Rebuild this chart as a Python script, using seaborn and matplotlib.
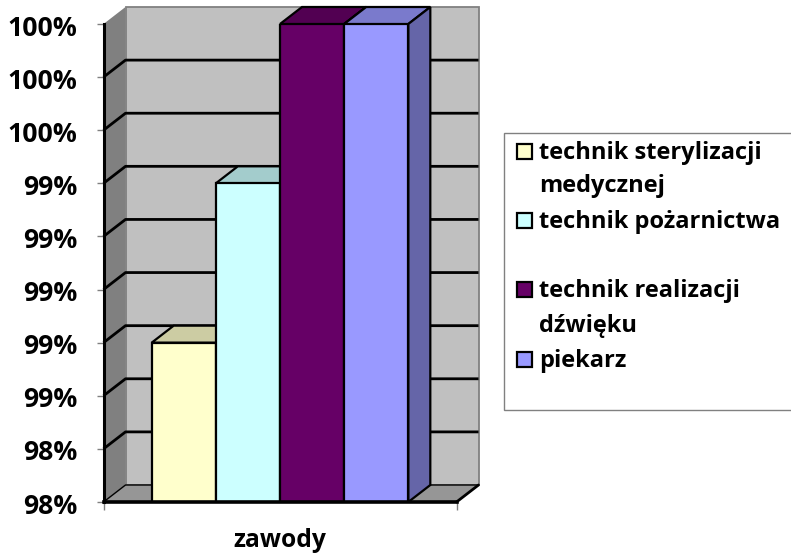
# -*- coding: utf-8 -*-
import pandas as pd
import matplotlib
matplotlib.use('Agg')
import matplotlib.pyplot as plt
import matplotlib.colors as mcolors
from matplotlib.patches import Polygon, Rectangle
from matplotlib.ticker import FixedLocator, FixedFormatter
from matplotlib.transforms import ScaledTranslation
import seaborn as sns

# dane
zawody = ['technik sterylizacji\nmedycznej', 'technik pożarnictwa',
          'technik realizacji\ndźwięku', 'piekarz']
wartosci = [98.8, 99.4, 100.0, 100.0]
kolory = ['#FFFFCC', '#CCFFFF', '#660066', '#9999FF']
os_y = [98.2, 98.4, 98.6, 98.8, 99.0, 99.2, 99.4, 99.6, 99.8, 100.0]
etykiety_y = ['98%', '98%', '99%', '99%', '99%', '99%', '99%', '100%', '100%', '100%']

sns.set_style('white')
plt.rcParams['font.family'] = ['Open Sans', 'DejaVu Sans']
plt.rcParams['font.weight'] = 'bold'
plt.rcParams['text.color'] = 'black'
plt.rcParams['axes.labelcolor'] = 'black'
plt.rcParams['xtick.labelcolor'] = 'black'
plt.rcParams['ytick.labelcolor'] = 'black'

W, H = 791, 553
fig = plt.figure(figsize=(W / 100, H / 100), dpi=100)
ax = fig.add_axes([103.5 / W, 1 - 502 / H, 353 / W, 478 / H])

df = pd.DataFrame({'kat': ['zawody'] * 4, 'zawod': zawody, 'wartosc': wartosci})
sns.barplot(data=df, x='kat', y='wartosc', hue='zawod', hue_order=zawody,
            palette=kolory, saturation=1, width=0.727, gap=0, legend=False,
            edgecolor='black', linewidth=1.6, zorder=5, ax=ax)

ymin, ymax = os_y[0], os_y[-1]
ax.set_xlim(-0.5, 0.5)
ax.set_ylim(ymin, ymax)

# glebokosc 3D w jednostkach danych
dx = 22 / 353
dy = 17 / 478 * (ymax - ymin)
x0, x1 = -0.5, 0.5


def wielokat(pts, fc, ec='none', lw=0, z=1):
    ax.add_patch(Polygon(pts, closed=True, facecolor=fc, edgecolor=ec,
                         linewidth=lw, zorder=z, clip_on=False))


def ciemniej(c, f):
    r, g, b = mcolors.to_rgb(c)
    return (r * f, g * f, b * f)


# sciany
wielokat([(x0 + dx, ymin + dy), (x1 + dx, ymin + dy), (x1 + dx, ymax + dy), (x0 + dx, ymax + dy)],
         '#C0C0C0', '#808080', 1.3, 1)
wielokat([(x0, ymin), (x0 + dx, ymin + dy), (x0 + dx, ymax + dy), (x0, ymax)], '#808080', z=1.5)
wielokat([(x0, ymin), (x1, ymin), (x1 + dx, ymin + dy), (x0 + dx, ymin + dy)], '#969696', z=1.5)

# linie siatki
for y in os_y:
    if y == ymax:
        continue
    ax.plot([x0, x0 + dx, x1 + dx], [y, y + dy, y + dy], color='black', lw=2.0 if y > ymin else 1.0,
            zorder=2, clip_on=False, solid_capstyle='butt')
ax.plot([x1, x1 + dx], [ymin, ymin + dy], color='black', lw=2.0, zorder=2, clip_on=False)

# boki i wierzch slupkow
slupki = [c[0] for c in ax.containers]
for s, kolor in zip(slupki, kolory):
    a, b, v = s.get_x(), s.get_x() + s.get_width(), s.get_height()
    wielokat([(a, v), (b, v), (b + dx, v + dy), (a + dx, v + dy)], ciemniej(kolor, 0.8), 'black', 1.6, 3)
    wielokat([(b, ymin), (b + dx, ymin + dy), (b + dx, v + dy), (b, v)], ciemniej(kolor, 0.66), 'black', 1.6, 3)

# osie
for s in ['top', 'right']:
    ax.spines[s].set_visible(False)
ax.spines['left'].set_color('black')
ax.spines['left'].set_linewidth(2.2)
ax.spines['bottom'].set_color('black')
ax.spines['bottom'].set_linewidth(2.6)
ax.spines['left'].set_zorder(6)
ax.spines['bottom'].set_zorder(6)

ax.yaxis.set_major_locator(FixedLocator(os_y))
ax.yaxis.set_major_formatter(FixedFormatter(etykiety_y))
ax.set_xticks([x0, x1])
ax.set_xticklabels(['', ''])
ax.tick_params(axis='y', left=True, length=5, width=1, color='#808080', pad=14, labelsize=19.2)
ax.tick_params(axis='x', bottom=True, length=6, width=1, color='#808080')
for t in ax.get_yticklabels():
    t.set_transform(t.get_transform() + ScaledTranslation(0, -1.5 / 100, fig.dpi_scale_trans))
ax.set_ylabel('')
ax.set_xlabel('zawody', fontsize=17.7, fontweight='bold', labelpad=9)

# legenda
pix = lambda x, y: (x / W, 1 - y / H)
fig.add_artist(Rectangle(pix(504, 410), 300 / W, 277 / H, transform=fig.transFigure,
                         facecolor='white', edgecolor='#808080', linewidth=1))
linie_bazowe = [[159, 192], [228], [297, 332], [367]]
for nazwa, kolor, bazy in zip(zawody, kolory, linie_bazowe):
    fig.add_artist(Rectangle(pix(517, bazy[0]), 15 / W, 15 / H, transform=fig.transFigure,
                             facecolor=kolor, edgecolor='black', linewidth=1.6))
    for linia, y in zip(nazwa.split('\n'), bazy):
        fig.text(*pix(539, y), linia, fontsize=17, fontweight='bold', va='baseline', ha='left')

fig.savefig('out.png', dpi=100)
